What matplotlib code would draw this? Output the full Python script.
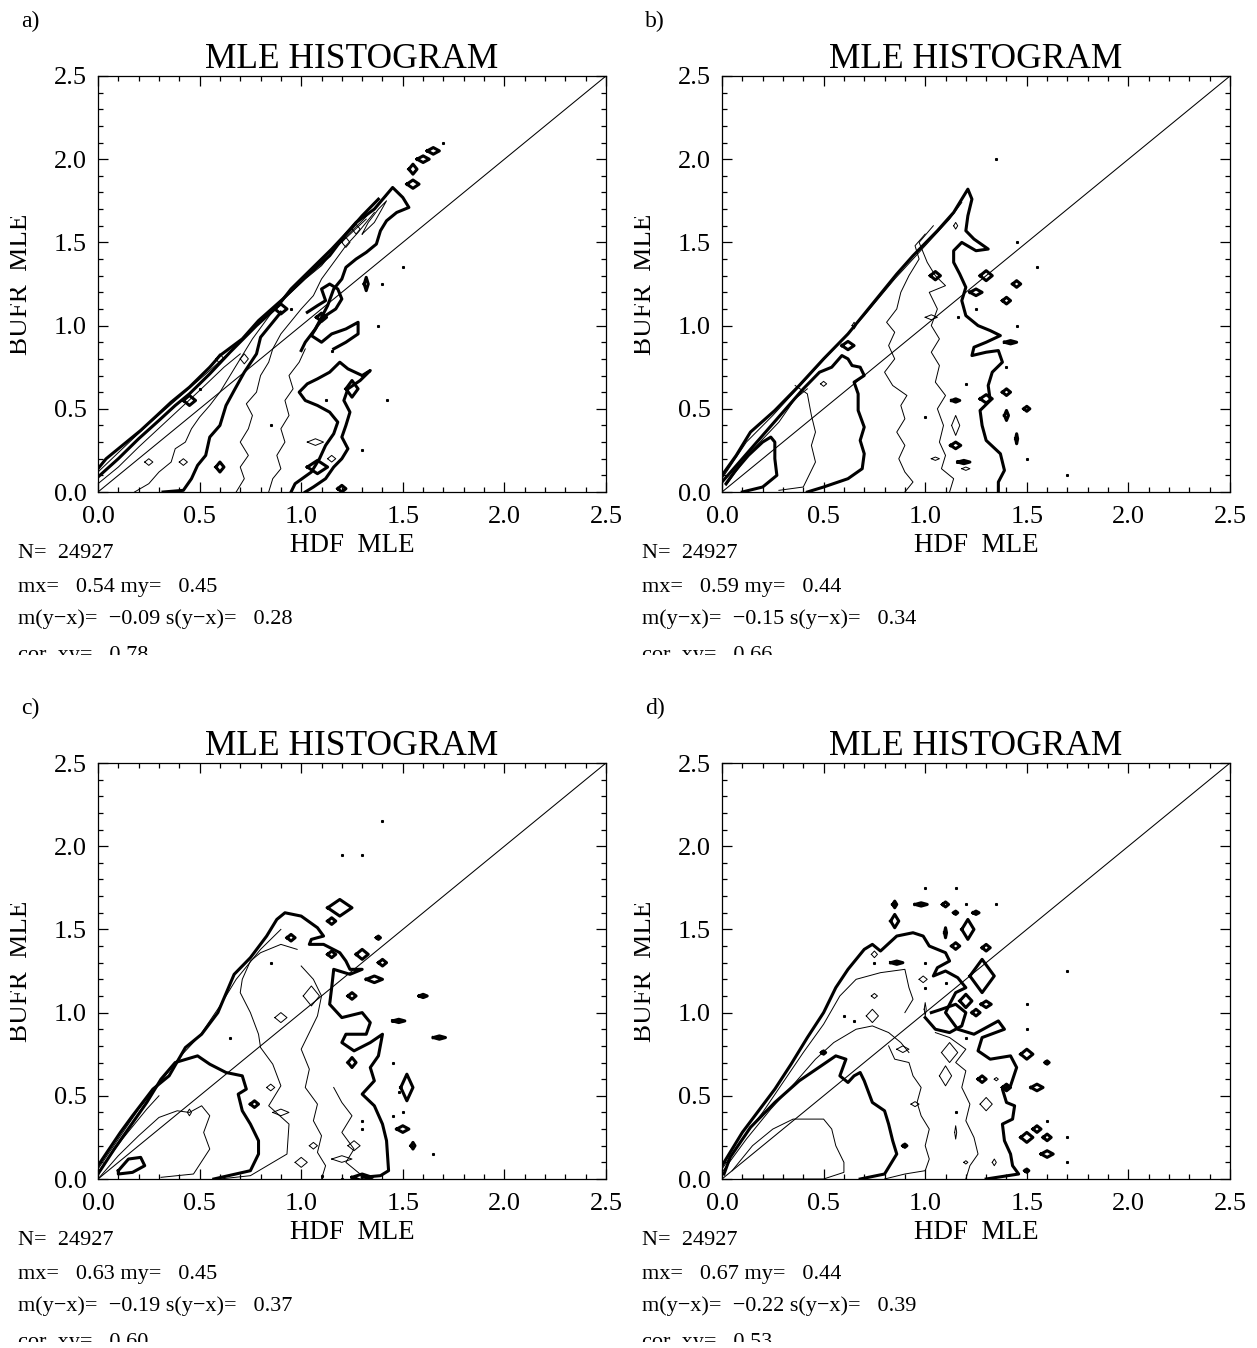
import numpy as np
import matplotlib
matplotlib.use("Agg")
import matplotlib.pyplot as plt
from matplotlib.transforms import Bbox

plt.rcParams['font.family'] = ['Liberation Serif', 'DejaVu Serif']

W, H = 1257, 1348

# ---- stats text printed under each panel
panel_tags = ['a)', 'b)', 'c)', 'd)']
n_points = [24927, 24927, 24927, 24927]
mx = [0.54, 0.59, 0.63, 0.67]
my = [0.45, 0.44, 0.45, 0.44]
m_diff = [-0.09, -0.15, -0.19, -0.22]
s_diff = [0.28, 0.34, 0.37, 0.39]
cor_xy = [0.78, 0.66, 0.60, 0.53]

# ---- contour traces (x = HDF MLE, y = BUFR MLE)
# panel a
a_thick = [
    [(0.0, 0.14), (0.04, 0.2), (0.12, 0.28), (0.21, 0.37), (0.29, 0.46), (0.36, 0.54), (0.45, 0.63),
     (0.55, 0.75), (0.6, 0.82), (0.71, 0.92), (0.79, 1.03), (0.91, 1.16), (1.02, 1.29), (1.14, 1.42),
     (1.22, 1.55), (1.27, 1.62), (1.36, 1.70), (1.45, 1.83), (1.5, 1.77), (1.53, 1.71), (1.47, 1.68),
     (1.42, 1.63), (1.39, 1.57), (1.37, 1.49), (1.32, 1.44), (1.27, 1.4), (1.22, 1.35), (1.2, 1.28),
     (1.16, 1.22), (1.13, 1.12), (1.1, 1.05), (1.07, 0.98), (1.02, 0.9), (1.0, 0.85)],
    [(0.0, 0.09), (0.1, 0.2), (0.2, 0.32), (0.3, 0.43), (0.38, 0.52), (0.45, 0.59), (0.55, 0.71),
     (0.65, 0.84), (0.78, 1.0), (0.88, 1.11), (0.95, 1.22), (1.05, 1.34), (1.15, 1.46), (1.25, 1.59),
     (1.3, 1.66), (1.38, 1.76)],
    [(0.32, 0.0), (0.42, 0.01), (0.46, 0.08), (0.49, 0.16), (0.53, 0.22), (0.55, 0.33), (0.6, 0.4),
     (0.63, 0.52), (0.67, 0.61), (0.72, 0.72), (0.78, 0.83), (0.8, 0.93), (0.86, 1.02), (0.9, 1.08)],
    [(0.95, 0.0), (0.97, 0.05), (1.05, 0.12), (1.09, 0.2), (1.12, 0.28), (1.16, 0.35), (1.18, 0.42),
     (1.14, 0.48), (1.08, 0.52), (1.02, 0.55), (0.99, 0.6), (1.03, 0.65), (1.08, 0.68), (1.14, 0.72),
     (1.19, 0.78), (1.23, 0.74), (1.3, 0.7), (1.34, 0.73), (1.29, 0.67), (1.23, 0.62), (1.21, 0.55),
     (1.24, 0.48), (1.22, 0.4), (1.2, 0.33), (1.23, 0.26), (1.2, 0.2), (1.16, 0.15), (1.12, 0.08),
     (1.06, 0.03), (1.02, 0.0)],
    [(1.03, 1.08), (1.08, 1.12), (1.12, 1.15), (1.1, 1.22), (1.14, 1.25), (1.18, 1.22), (1.2, 1.16),
     (1.17, 1.1), (1.12, 1.06), (1.08, 1.0), (1.05, 0.94), (1.1, 0.9), (1.15, 0.95), (1.22, 0.98),
     (1.28, 1.02), (1.28, 0.95), (1.22, 0.9), (1.16, 0.86)],
]
a_thin = [
    [(0.0, 0.12), (0.12, 0.26), (0.25, 0.41), (0.4, 0.57), (0.55, 0.73), (0.7, 0.9), (0.85, 1.09),
     (1.0, 1.26), (1.15, 1.45), (1.3, 1.63), (1.42, 1.78)],
    [(0.0, 0.05), (0.1, 0.15), (0.2, 0.27), (0.35, 0.44), (0.5, 0.61), (0.62, 0.75), (0.7, 0.83)],
    [(0.18, 0.0), (0.25, 0.05), (0.3, 0.12), (0.36, 0.18), (0.38, 0.26), (0.43, 0.3), (0.46, 0.38),
     (0.5, 0.45), (0.55, 0.52), (0.6, 0.6), (0.66, 0.72), (0.7, 0.8), (0.76, 0.92), (0.82, 1.02),
     (0.88, 1.12), (0.95, 1.2), (1.02, 1.28), (1.1, 1.36), (1.18, 1.48), (1.25, 1.56), (1.32, 1.64)],
    [(0.68, 0.0), (0.72, 0.08), (0.7, 0.15), (0.74, 0.22), (0.7, 0.3), (0.74, 0.38), (0.76, 0.46),
     (0.73, 0.53), (0.78, 0.6), (0.8, 0.7), (0.84, 0.78), (0.86, 0.86), (0.9, 0.95), (0.96, 1.04),
     (1.0, 1.1), (1.06, 1.18), (1.1, 1.28), (1.16, 1.38), (1.22, 1.48), (1.28, 1.56), (1.36, 1.68)],
    [(0.84, 0.0), (0.86, 0.08), (0.9, 0.14), (0.88, 0.22), (0.92, 0.3), (0.9, 0.38), (0.94, 0.46),
     (0.92, 0.55), (0.96, 0.62), (0.94, 0.7), (0.99, 0.78), (1.02, 0.86)],
    [(1.3, 1.55), (1.36, 1.62), (1.42, 1.75), (1.38, 1.7), (1.33, 1.62), (1.3, 1.55)],
]
a_blobs = [(0.45, 0.55, 0.03, 0.03, 1), (0.9, 1.1, 0.03, 0.03, 1), (1.1, 1.05, 0.025, 0.025, 1),
           (1.25, 0.62, 0.03, 0.05, 1), (1.55, 1.94, 0.02, 0.03, 1), (1.6, 2.0, 0.03, 0.02, 1),
           (1.65, 2.05, 0.03, 0.02, 1), (1.55, 1.85, 0.03, 0.025, 1), (1.32, 1.25, 0.01, 0.04, 1),
           (1.08, 0.15, 0.05, 0.04, 1), (1.2, 0.02, 0.02, 0.02, 1), (0.6, 0.15, 0.02, 0.03, 1),
           (0.6, 0.8, 0.02, 0.03, 0), (0.72, 0.8, 0.02, 0.03, 0), (1.07, 0.3, 0.04, 0.02, 0),
           (1.15, 0.2, 0.02, 0.02, 0), (0.25, 0.18, 0.02, 0.02, 0), (0.42, 0.18, 0.02, 0.02, 0),
           (1.22, 1.5, 0.02, 0.03, 0), (1.27, 1.58, 0.02, 0.03, 0)]
a_dots = [(1.7, 2.1), (1.5, 1.35), (1.4, 1.25), (1.38, 1.0), (1.42, 0.55), (1.3, 0.25), (0.5, 0.62),
          (0.95, 1.1), (0.85, 0.4), (1.15, 0.85), (1.12, 0.55)]

# panel b
b_thick = [
    [(0.0, 0.1), (0.07, 0.22), (0.14, 0.36), (0.26, 0.49), (0.38, 0.64), (0.5, 0.8), (0.62, 0.95),
     (0.74, 1.13), (0.86, 1.31), (0.94, 1.42), (1.06, 1.57), (1.14, 1.68), (1.19, 1.78), (1.21, 1.82),
     (1.23, 1.76), (1.21, 1.66), (1.2, 1.57), (1.24, 1.52), (1.31, 1.46), (1.25, 1.45), (1.18, 1.5),
     (1.14, 1.45), (1.14, 1.38), (1.17, 1.31), (1.2, 1.23), (1.18, 1.15), (1.2, 1.06), (1.26, 1.0),
     (1.32, 0.97), (1.37, 0.94), (1.3, 0.9), (1.24, 0.87), (1.23, 0.82), (1.3, 0.84), (1.36, 0.85),
     (1.38, 0.78), (1.33, 0.72), (1.31, 0.64), (1.32, 0.55), (1.27, 0.49), (1.28, 0.4), (1.3, 0.31),
     (1.37, 0.23), (1.39, 0.13), (1.36, 0.06), (1.36, 0.0)],
    [(0.0, 0.06), (0.1, 0.2), (0.2, 0.34), (0.3, 0.48), (0.4, 0.62), (0.48, 0.72), (0.54, 0.75),
     (0.59, 0.82), (0.62, 0.8), (0.64, 0.76), (0.68, 0.75), (0.7, 0.7), (0.65, 0.66), (0.67, 0.59),
     (0.67, 0.49), (0.7, 0.39), (0.68, 0.31), (0.7, 0.23), (0.69, 0.14), (0.62, 0.08), (0.5, 0.03),
     (0.42, 0.0)],
    [(0.1, 0.0), (0.2, 0.03), (0.27, 0.1), (0.26, 0.2), (0.26, 0.3), (0.24, 0.33), (0.2, 0.3),
     (0.13, 0.22), (0.06, 0.12), (0.02, 0.05)],
]
b_thin = [
    [(0.0, 0.08), (0.12, 0.3), (0.25, 0.46), (0.4, 0.66), (0.55, 0.86), (0.7, 1.06), (0.85, 1.28),
     (1.0, 1.48), (1.12, 1.64), (1.18, 1.74)],
    [(0.02, 0.04), (0.14, 0.24), (0.28, 0.42), (0.36, 0.56), (0.42, 0.62)],
    [(0.28, 0.01), (0.4, 0.03), (0.46, 0.18), (0.44, 0.28), (0.46, 0.36), (0.44, 0.46), (0.42, 0.59),
     (0.36, 0.64)],
    [(0.9, 0.0), (0.94, 0.06), (0.9, 0.12), (0.87, 0.2), (0.9, 0.28), (0.86, 0.36), (0.9, 0.44),
     (0.88, 0.52), (0.91, 0.58), (0.84, 0.64), (0.8, 0.72), (0.85, 0.8), (0.82, 0.88), (0.85, 0.96),
     (0.81, 1.02), (0.86, 1.1), (0.88, 1.2), (0.92, 1.3), (0.97, 1.4), (0.95, 1.48), (1.0, 1.55)],
    [(1.12, 0.0), (1.14, 0.08), (1.08, 0.14), (1.1, 0.22), (1.07, 0.3), (1.09, 0.4), (1.06, 0.5),
     (1.1, 0.58), (1.05, 0.66), (1.07, 0.76), (1.03, 0.84), (1.07, 0.92), (1.03, 1.0), (1.06, 1.1),
     (1.02, 1.2), (1.1, 1.24), (1.05, 1.3), (1.01, 1.38), (0.97, 1.5), (1.04, 1.6)],
]
b_blobs = [(1.05, 1.3, 0.025, 0.025, 1), (1.25, 1.2, 0.03, 0.02, 1), (1.3, 1.3, 0.03, 0.03, 1),
           (1.45, 1.25, 0.02, 0.02, 1), (1.4, 1.15, 0.02, 0.02, 1), (1.42, 0.9, 0.03, 0.01, 1),
           (1.4, 0.6, 0.02, 0.02, 1), (1.3, 0.56, 0.03, 0.025, 1), (1.5, 0.5, 0.015, 0.015, 1),
           (1.4, 0.46, 0.01, 0.03, 1), (1.45, 0.32, 0.005, 0.03, 1), (1.15, 0.28, 0.025, 0.02, 1),
           (1.19, 0.18, 0.03, 0.01, 1), (1.15, 0.55, 0.02, 0.01, 1), (0.62, 0.88, 0.03, 0.025, 1),
           (0.5, 0.65, 0.015, 0.015, 0), (0.65, 1.0, 0.01, 0.02, 0), (1.15, 1.6, 0.01, 0.02, 0),
           (1.03, 1.05, 0.03, 0.015, 0), (1.15, 0.4, 0.02, 0.06, 0), (1.2, 0.14, 0.02, 0.01, 0),
           (1.05, 0.2, 0.02, 0.01, 0)]
b_dots = [(1.35, 2.0), (1.55, 1.35), (1.45, 1.5), (1.45, 1.0), (1.4, 0.75), (1.5, 0.2), (1.7, 0.1),
          (1.25, 1.1), (1.0, 0.45), (1.2, 0.65), (1.16, 1.05)]

# panel c
c_thick = [
    [(0.0, 0.08), (0.11, 0.28), (0.17, 0.38), (0.27, 0.54), (0.35, 0.62), (0.43, 0.79), (0.51, 0.87),
     (0.59, 1.0), (0.67, 1.23), (0.75, 1.33), (0.83, 1.46), (0.88, 1.56), (0.92, 1.6), (1.0, 1.58),
     (1.08, 1.51), (1.11, 1.46), (1.05, 1.44), (1.04, 1.41), (1.11, 1.41), (1.19, 1.36), (1.22, 1.31),
     (1.24, 1.26), (1.3, 1.26), (1.24, 1.23), (1.16, 1.26), (1.15, 1.15), (1.14, 1.05), (1.2, 0.97),
     (1.3, 1.0), (1.34, 0.94), (1.32, 0.87), (1.22, 0.87), (1.2, 0.82), (1.26, 0.77), (1.34, 0.82),
     (1.4, 0.87), (1.38, 0.74), (1.34, 0.67), (1.36, 0.59), (1.3, 0.51), (1.36, 0.44), (1.4, 0.33),
     (1.42, 0.23), (1.43, 0.05), (1.39, 0.02), (1.3, 0.01)],
    [(0.0, 0.03), (0.08, 0.18), (0.16, 0.32), (0.24, 0.46), (0.31, 0.6), (0.38, 0.7), (0.49, 0.74),
     (0.55, 0.69), (0.63, 0.64), (0.71, 0.62), (0.73, 0.54), (0.69, 0.51), (0.71, 0.41), (0.75, 0.33),
     (0.79, 0.23), (0.79, 0.15), (0.75, 0.05), (0.57, 0.0)],
    [(0.1, 0.05), (0.15, 0.12), (0.21, 0.13), (0.23, 0.08), (0.17, 0.04), (0.1, 0.03), (0.1, 0.05)],
]
c_thin = [
    [(0.0, 0.06), (0.1, 0.24), (0.2, 0.42), (0.3, 0.57), (0.4, 0.73), (0.5, 0.86), (0.6, 1.04),
     (0.68, 1.2), (0.8, 1.38), (0.9, 1.5)],
    [(0.0, 0.04), (0.12, 0.24), (0.24, 0.42), (0.3, 0.5)],
    [(0.0, 0.0), (0.1, 0.14), (0.2, 0.26), (0.3, 0.37), (0.39, 0.41), (0.45, 0.4), (0.51, 0.44),
     (0.55, 0.38), (0.52, 0.28), (0.55, 0.18), (0.47, 0.03), (0.31, 0.01)],
    [(0.6, 0.0), (0.75, 0.02), (0.93, 0.15), (0.94, 0.33), (0.84, 0.44), (0.9, 0.56), (0.86, 0.69),
     (0.8, 0.79), (0.79, 0.87), (0.75, 1.0), (0.7, 1.12), (0.71, 1.2), (0.75, 1.31), (0.8, 1.36),
     (0.9, 1.41), (0.98, 1.38)],
    [(1.1, 0.0), (1.12, 0.08), (1.08, 0.16), (1.1, 0.26), (1.06, 0.35), (1.08, 0.45), (1.02, 0.55),
     (1.04, 0.66), (1.0, 0.78), (1.04, 0.88), (1.08, 0.98), (1.1, 1.1), (1.06, 1.2), (1.0, 1.28)],
    [(1.3, 0.02), (1.22, 0.1), (1.26, 0.18), (1.2, 0.28), (1.25, 0.38), (1.2, 0.46), (1.16, 0.55)],
]
c_blobs = [(1.19, 1.63, 0.06, 0.05, 1), (1.15, 1.55, 0.02, 0.02, 1), (0.95, 1.45, 0.02, 0.02, 1),
           (1.15, 1.35, 0.02, 0.02, 1), (1.3, 1.35, 0.03, 0.03, 1), (1.4, 1.3, 0.02, 0.02, 1),
           (1.36, 1.2, 0.04, 0.02, 1), (1.25, 1.1, 0.02, 0.02, 1), (1.6, 1.1, 0.02, 0.01, 1),
           (1.48, 0.95, 0.03, 0.01, 1), (1.68, 0.85, 0.03, 0.01, 1), (1.25, 0.7, 0.02, 0.03, 1),
           (1.52, 0.55, 0.03, 0.08, 1), (1.5, 0.3, 0.03, 0.02, 1), (1.55, 0.2, 0.01, 0.02, 1),
           (0.77, 0.45, 0.02, 0.02, 1), (1.3, 0.01, 0.05, 0.02, 1), (1.38, 1.45, 0.01, 0.01, 1),
           (0.85, 0.55, 0.02, 0.02, 0), (0.9, 0.4, 0.04, 0.02, 0), (1.05, 1.1, 0.04, 0.06, 0),
           (0.9, 0.97, 0.03, 0.03, 0), (1.0, 0.1, 0.03, 0.03, 0), (1.06, 0.2, 0.02, 0.02, 0),
           (1.2, 0.12, 0.05, 0.02, 0), (1.26, 0.2, 0.03, 0.03, 0), (0.45, 0.4, 0.01, 0.02, 0)]
c_dots = [(1.4, 2.15), (1.2, 1.95), (1.3, 1.95), (0.85, 1.3), (1.3, 0.3), (1.3, 0.35), (1.5, 0.4),
          (1.45, 0.38), (1.48, 0.52), (1.45, 0.7), (1.65, 0.15), (0.65, 0.85), (1.2, 0.0), (1.1, 0.02)]

# panel d
d_thick = [
    [(0.0, 0.08), (0.1, 0.28), (0.18, 0.41), (0.26, 0.54), (0.34, 0.69), (0.42, 0.85), (0.5, 1.0),
     (0.56, 1.15), (0.62, 1.26), (0.7, 1.38), (0.74, 1.41), (0.78, 1.37), (0.86, 1.46), (0.94, 1.48),
     (0.99, 1.46), (1.02, 1.4), (1.1, 1.36), (1.12, 1.31), (1.06, 1.27), (1.04, 1.22), (1.1, 1.25),
     (1.16, 1.21), (1.2, 1.15), (1.15, 1.12), (1.12, 1.05), (1.1, 1.0), (1.16, 0.9), (1.24, 0.87),
     (1.36, 0.95), (1.39, 0.9), (1.28, 0.85), (1.26, 0.77), (1.32, 0.72), (1.42, 0.74), (1.45, 0.67),
     (1.42, 0.56), (1.38, 0.54), (1.4, 0.46), (1.44, 0.44), (1.43, 0.36), (1.38, 0.33), (1.39, 0.23),
     (1.42, 0.15), (1.43, 0.08), (1.46, 0.03), (1.3, 0.0)],
    [(0.01, 0.03), (0.04, 0.13), (0.14, 0.31), (0.26, 0.46), (0.38, 0.59), (0.5, 0.69), (0.56, 0.74),
     (0.61, 0.72), (0.58, 0.62), (0.62, 0.58), (0.65, 0.62), (0.68, 0.64), (0.7, 0.59), (0.74, 0.46),
     (0.8, 0.41), (0.82, 0.33), (0.84, 0.23), (0.86, 0.15), (0.8, 0.03), (0.68, 0.0)],
    [(1.0, 0.97), (1.05, 0.9), (1.12, 0.88), (1.18, 0.92), (1.2, 1.0), (1.15, 1.05), (1.08, 1.02),
     (1.03, 1.0)],
]
d_thin = [
    [(0.0, 0.06), (0.1, 0.24), (0.2, 0.4), (0.3, 0.58), (0.4, 0.76), (0.5, 0.93), (0.58, 1.1),
     (0.66, 1.2), (0.78, 1.24), (0.9, 1.26), (0.92, 1.15), (0.94, 1.08), (0.9, 1.0)],
    [(0.0, 0.04), (0.12, 0.24), (0.24, 0.42), (0.36, 0.58), (0.46, 0.72), (0.55, 0.82), (0.66, 0.9),
     (0.74, 0.92), (0.82, 0.88), (0.88, 0.82), (0.92, 0.76)],
    [(0.05, 0.05), (0.15, 0.2), (0.25, 0.3), (0.35, 0.36), (0.5, 0.36), (0.54, 0.3), (0.56, 0.2),
     (0.6, 0.1), (0.6, 0.04), (0.5, 0.0), (0.1, 0.0)],
    [(0.8, 0.0), (0.9, 0.03), (1.0, 0.05), (1.02, 0.12), (1.0, 0.2), (1.02, 0.3), (0.98, 0.38),
     (0.96, 0.46), (0.98, 0.55), (0.94, 0.62), (0.92, 0.7), (0.85, 0.72), (0.82, 0.8)],
    [(1.2, 0.0), (1.22, 0.08), (1.26, 0.15), (1.24, 0.25), (1.2, 0.35), (1.22, 0.45), (1.18, 0.55),
     (1.2, 0.65), (1.15, 0.7), (1.2, 0.78), (1.12, 0.85), (1.05, 0.88)],
]
d_blobs = [(0.85, 1.55, 0.02, 0.04, 1), (0.85, 1.65, 0.01, 0.02, 1), (0.98, 1.65, 0.03, 0.01, 1),
           (1.1, 1.65, 0.015, 0.015, 1), (1.15, 1.6, 0.01, 0.01, 1), (1.25, 1.6, 0.015, 0.01, 1),
           (1.21, 1.5, 0.03, 0.06, 1), (1.1, 1.48, 0.005, 0.03, 1), (1.15, 1.4, 0.02, 0.02, 1),
           (1.3, 1.39, 0.02, 0.02, 1), (0.86, 1.3, 0.03, 0.01, 1), (1.28, 1.22, 0.06, 0.1, 1),
           (1.2, 1.07, 0.03, 0.04, 1), (1.25, 1.0, 0.02, 0.02, 1), (1.3, 1.05, 0.025, 0.02, 1),
           (1.5, 0.75, 0.03, 0.03, 1), (1.4, 0.55, 0.02, 0.02, 1), (1.55, 0.55, 0.03, 0.02, 1),
           (1.5, 0.25, 0.03, 0.03, 1), (1.55, 0.3, 0.02, 0.02, 1), (1.6, 0.25, 0.02, 0.02, 1),
           (1.6, 0.15, 0.03, 0.02, 1), (0.5, 0.76, 0.01, 0.01, 1), (0.9, 0.2, 0.01, 0.01, 1),
           (1.6, 0.7, 0.01, 0.01, 1), (1.5, 0.05, 0.01, 0.01, 1), (1.28, 0.6, 0.02, 0.02, 1),
           (0.75, 1.35, 0.015, 0.02, 0), (0.75, 1.1, 0.015, 0.015, 0), (0.74, 0.98, 0.03, 0.04, 0),
           (0.99, 1.2, 0.02, 0.02, 0), (0.89, 0.78, 0.03, 0.02, 0), (1.12, 0.76, 0.04, 0.06, 0),
           (1.3, 0.45, 0.03, 0.04, 0), (0.95, 0.45, 0.02, 0.015, 0), (1.0, 1.02, 0.005, 0.04, 0),
           (1.15, 0.28, 0.005, 0.04, 0), (1.2, 0.1, 0.01, 0.01, 0), (1.34, 0.1, 0.01, 0.02, 0),
           (1.1, 0.62, 0.03, 0.06, 0), (1.35, 0.6, 0.01, 0.01, 0)]
d_dots = [(1.0, 1.75), (1.15, 1.75), (1.2, 1.65), (1.35, 1.65), (0.75, 1.3), (1.0, 1.3),
          (1.1, 1.18), (1.0, 1.15), (1.7, 1.25), (1.5, 1.05), (1.5, 0.9), (1.2, 0.85), (1.15, 0.4),
          (1.6, 0.35), (1.7, 0.25), (1.7, 0.1), (0.65, 0.95), (0.6, 0.98)]

thick_sets = [a_thick, b_thick, c_thick, d_thick]
thin_sets = [a_thin, b_thin, c_thin, d_thin]
blob_sets = [a_blobs, b_blobs, c_blobs, d_blobs]
dot_sets = [a_dots, b_dots, c_dots, d_dots]

# panel frames in pixels of the whole picture (left, top) and axes size
panel_off = [(0, 0), (624, 0), (0, 687), (624, 687)]
ax_left, ax_top, ax_w, ax_h = 98, 76, 508, 416

fig = plt.figure(figsize=(W / 100, H / 100), dpi=100)

THICK = 2.2
THIN = 0.7

for i in range(4):
    ox, oy = panel_off[i]
    ax = fig.add_axes([(ax_left + ox) / W, 1 - (ax_top + oy + ax_h) / H, ax_w / W, ax_h / H])
    ax.set_xlim(0, 2.5)
    ax.set_ylim(0, 2.5)

    ax.plot([0, 2.5], [0, 2.5], color='black', lw=0.75)
    for line in thick_sets[i]:
        p = np.array(line)
        ax.plot(p[:, 0], p[:, 1], color='black', lw=THICK, solid_joinstyle='round')
    for line in thin_sets[i]:
        p = np.array(line)
        ax.plot(p[:, 0], p[:, 1], color='black', lw=THIN)
    for (bx, by, bw, bh, heavy) in blob_sets[i]:
        ax.plot([bx - bw, bx, bx + bw, bx, bx - bw], [by, by + bh, by, by - bh, by],
                color='black', lw=THICK if heavy else THIN)
    d = np.array(dot_sets[i])
    ax.plot(d[:, 0], d[:, 1], ls='none', marker='s', ms=1.2, color='black')

    ax.set_xticks(np.arange(0, 2.51, 0.5))
    ax.set_yticks(np.arange(0, 2.51, 0.5))
    ax.set_xticks(np.arange(0, 2.51, 0.1), minor=True)
    ax.set_yticks(np.arange(0, 2.51, 0.1), minor=True)
    ax.set_xticklabels(['%.1f' % v for v in np.arange(0, 2.51, 0.5)])
    ax.set_yticklabels(['%.1f' % v for v in np.arange(0, 2.51, 0.5)])
    ax.tick_params(which='both', direction='in', top=True, right=True, labelsize=19, width=0.9)
    ax.tick_params(which='major', length=7)
    ax.tick_params(axis='x', which='major', pad=10)
    ax.tick_params(axis='y', which='major', pad=8)
    ax.tick_params(which='minor', length=3.5)
    for s in ax.spines.values():
        s.set_linewidth(0.9)

    ax.set_title('MLE HISTOGRAM', fontsize=25.5, pad=4)
    ax.set_xlabel('HDF  MLE', fontsize=19.5, labelpad=4)
    yl = ax.set_ylabel('BUFR  MLE', fontsize=19.5)
    ax.yaxis.set_label_coords(-0.127, 0.5)
    yl.set_clip_box(Bbox.from_extents(10 + ox, 0, W, H))
    yl.set_clip_on(True)

    fig.text((21 + ox) / W, 1 - (27 + oy) / H, panel_tags[i], fontsize=17, va='baseline')
    lines = ['N=  %d' % n_points[i],
             'mx=   %.2f my=   %.2f' % (mx[i], my[i]),
             'm(y\u2212x)=  \u2212%.2f s(y\u2212x)=   %.2f' % (abs(m_diff[i]), s_diff[i]),
             'cor  xy=   %.2f' % cor_xy[i]]
    clip = Bbox.from_extents(0, H - (655 + oy), W, H)
    for k, base in enumerate([558, 592, 624, 660]):
        t = fig.text((18 + ox) / W, 1 - (base + oy) / H, lines[k], fontsize=16, va='baseline')
        t.set_clip_box(clip)
        t.set_clip_on(True)

fig.savefig('out.png', dpi=100)
